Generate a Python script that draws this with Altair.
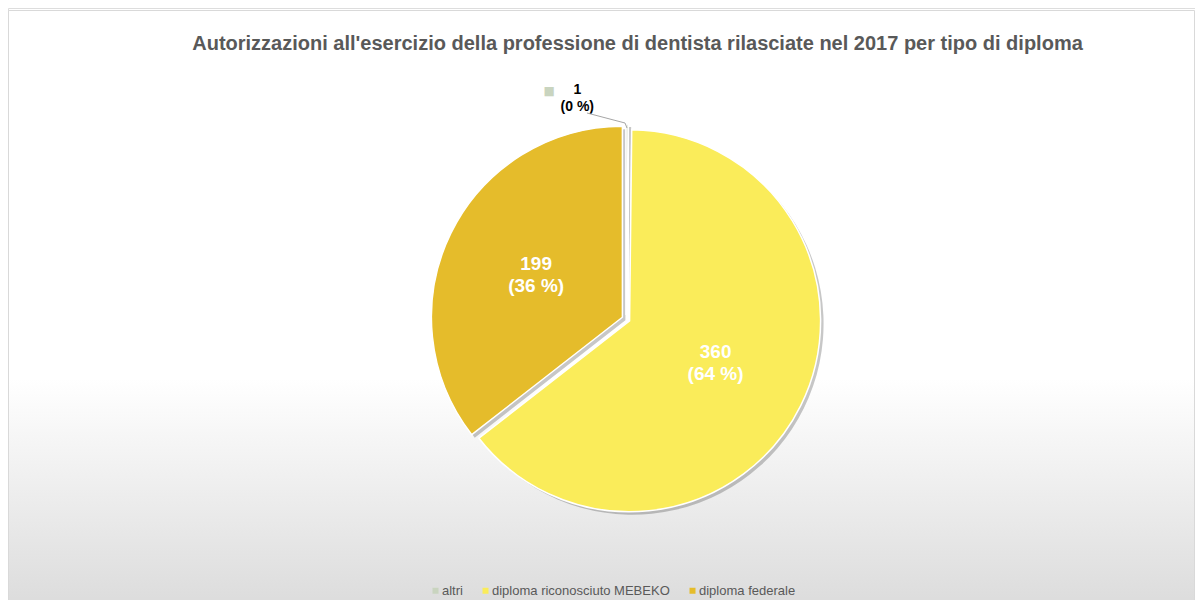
import altair as alt
import pandas as pd

# ---- data ----
categories = ["altri", "diploma riconosciuto MEBEKO", "diploma federale"]
values = [1, 360, 199]
percents = ["0 %", "64 %", "36 %"]
colors = ["#C9D4BF", "#FAEC5A", "#E5BC2B"]
title_text = "Autorizzazioni all'esercizio della professione di dentista rilasciate nel 2017 per tipo di diploma"

W, H = 1187, 592
CX, CY = 618, 311       # pie centre (plot coords)
R = 191
EXPLODE = 4
FONT = "Liberation Sans, Arial, sans-serif"

df = pd.DataFrame({
    "categoria": categories,
    "valore": values,
    "pct": percents,
    "ordine": list(range(len(categories))),
})
df["inner"] = [f"{v}\n({p})" if v > 5 else "" for v, p in zip(values, percents)]
df["outer"] = [f"{v}\n({p})" if v <= 5 else "" for v, p in zip(values, percents)]
df["marker"] = ["■" if v <= 5 else "" for v in values]

base = alt.Chart(df).transform_joinaggregate(
    totale="sum(valore)"
).transform_window(
    cum="sum(valore)", sort=[alt.SortField("ordine")], frame=[None, 0]
).transform_calculate(
    mid="(datum.cum - datum.valore/2)/datum.totale*2*PI",
).transform_calculate(
    ex=f"{CX} + {EXPLODE}*sin(datum.mid)",
    ey=f"{CY} - {EXPLODE}*cos(datum.mid)",
).transform_calculate(
    sx="datum.ex + 3",
    sy="datum.ey + 3",
)

theta = alt.Theta("valore:Q", stack=True)
order = alt.Order("ordine:Q", sort="ascending")
color = alt.Color(
    "categoria:N",
    scale=alt.Scale(domain=categories, range=colors),
    sort=categories,
    legend=alt.Legend(
        title=None, orient="none", direction="horizontal",
        legendX=421, legendY=576,
        symbolType="square", symbolSize=36, symbolStrokeWidth=0,
        labelFontSize=13, labelColor="#595959", labelFont=FONT,
        labelOffset=0, columnPadding=16, padding=0, labelLimit=0,
    ),
)
xpos = alt.X("ex:Q", scale=None, axis=None)
ypos = alt.Y("ey:Q", scale=None, axis=None)

# background with gradient and border
bg = alt.Chart(pd.DataFrame({"k": [0]})).mark_rect(
    fill=alt.LinearGradient(
        gradient="linear", x1=0, x2=0, y1=0, y2=1,
        stops=[alt.GradientStop(color="#ffffff", offset=0),
               alt.GradientStop(color="#ffffff", offset=0.62),
               alt.GradientStop(color="#dcdcdc", offset=1)],
    ),
    stroke="#d9d9d9", strokeWidth=1,
).encode(x=alt.value(0.5), x2=alt.value(W - 0.5), y=alt.value(2.5), y2=alt.value(H + 5))

shadow = base.mark_arc(outerRadius=R, color="#000000", opacity=0.22).encode(
    theta=theta, order=order,
    x=alt.X("sx:Q", scale=None, axis=None), y=alt.Y("sy:Q", scale=None, axis=None),
)

pie = base.mark_arc(outerRadius=R, stroke="white", strokeWidth=1.5).encode(
    theta=theta, order=order, color=color, x=xpos, y=ypos,
    tooltip=["categoria", "valore"],
)

inner = base.mark_text(
    radius=96, dy=-11, font=FONT, fontSize=19, fontWeight="bold", color="white",
    lineBreak="\n", lineHeight=22, baseline="middle", align="center",
).encode(theta=theta, order=order, x=xpos, y=ypos, text="inner:N")

outer = base.mark_text(
    radius=225, dx=-50, font=FONT, fontSize=14, fontWeight="bold", color="#000000",
    lineBreak="\n", lineHeight=17, baseline="middle", align="center",
).encode(theta=theta, order=order, x=xpos, y=ypos, text="outer:N")

marker = base.mark_text(
    radius=224, dx=-78, font="DejaVu Sans", fontSize=12, color=colors[0],
    baseline="middle", align="center",
).encode(theta=theta, order=order, x=xpos, y=ypos, text="marker:N")

leader_src = pd.DataFrame({"k": [0]})
lead1 = alt.Chart(leader_src).mark_rule(color="#a6a6a6", strokeWidth=1).encode(
    x=alt.value(579), y=alt.value(105), x2=alt.value(617), y2=alt.value(115))
lead2 = alt.Chart(leader_src).mark_rule(color="#a6a6a6", strokeWidth=1).encode(
    x=alt.value(617), y=alt.value(115), x2=alt.value(619), y2=alt.value(120))

chart = alt.layer(bg, shadow, pie, inner, outer, marker, lead1, lead2).properties(
    width=W, height=H,
    autosize=alt.AutoSizeParams(type="none"),
    padding=0,
    title=alt.TitleParams(
        title_text, font=FONT, fontSize=20, fontWeight="bold", color="#595959",
        anchor="middle", offset=0, dx=36, dy=62, baseline="alphabetic",
    ),
).configure_view(stroke=None).configure(background="white")

chart.save("out.html", embed_options={"renderer": "svg", "actions": False})
